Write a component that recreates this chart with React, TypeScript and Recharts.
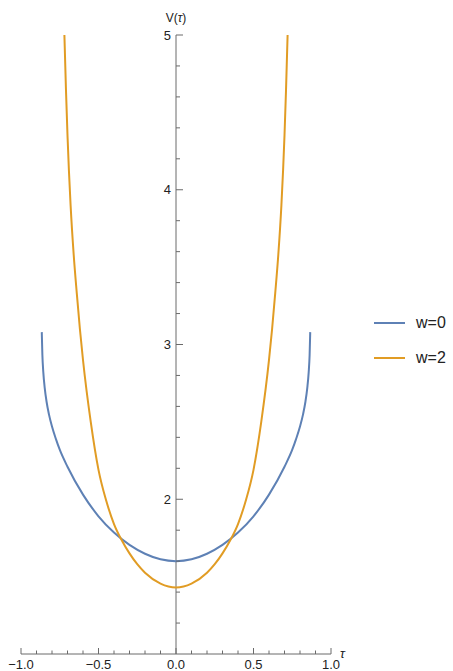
import React from 'react'
import { LineChart, Line, XAxis, YAxis, ReferenceLine, Legend } from 'recharts'

// V(tau)
const TAU_W0 = [-0.866, -0.862, -0.856, -0.847, -0.835, -0.82, -0.8, -0.775, -0.75, -0.7, -0.6, -0.5, -0.4, -0.3, -0.2, -0.1, 0, 0.1, 0.2, 0.3, 0.4, 0.5, 0.6, 0.7, 0.75, 0.775, 0.8, 0.82, 0.835, 0.847, 0.856, 0.862, 0.866]
const V_W0 = [3.08, 2.93, 2.82, 2.72, 2.63, 2.55, 2.47, 2.39, 2.32, 2.21, 2.03, 1.89, 1.785, 1.705, 1.648, 1.612, 1.6, 1.612, 1.648, 1.705, 1.785, 1.89, 2.03, 2.21, 2.32, 2.39, 2.47, 2.55, 2.63, 2.72, 2.82, 2.93, 3.08]

const TAU_W2 = [-0.72, -0.71, -0.7, -0.68, -0.66, -0.64, -0.62, -0.6, -0.55, -0.5, -0.45, -0.4, -0.35, -0.3, -0.25, -0.2, -0.1, 0, 0.1, 0.2, 0.25, 0.3, 0.35, 0.4, 0.45, 0.5, 0.55, 0.6, 0.62, 0.64, 0.66, 0.68, 0.7, 0.71, 0.72]
const V_W2 = [5.0, 4.65, 4.35, 3.9, 3.58, 3.33, 3.1, 2.9, 2.5, 2.19, 1.99, 1.84, 1.735, 1.65, 1.58, 1.525, 1.455, 1.43, 1.455, 1.525, 1.58, 1.65, 1.735, 1.84, 1.99, 2.19, 2.5, 2.9, 3.1, 3.33, 3.58, 3.9, 4.35, 4.65, 5.0]

const SERIES = ['w=0', 'w=2']
const COLORS = ['#5e81b5', '#e19c24']

const X_TICKS = [-1, -0.9, -0.8, -0.7, -0.6, -0.5, -0.4, -0.3, -0.2, -0.1, 0, 0.1, 0.2, 0.3, 0.4, 0.5, 0.6, 0.7, 0.8, 0.9, 1]
const X_LABELS = { '-1': '\u22121.0', '-0.5': '\u22120.5', '0': '0.0', '0.5': '0.5', '1': '1.0' }
const Y_TICKS = [1.2, 1.4, 1.6, 1.8, 2, 2.2, 2.4, 2.6, 2.8, 3, 3.2, 3.4, 3.6, 3.8, 4, 4.2, 4.4, 4.6, 4.8, 5]
const Y_LABELS = { '2': '2', '3': '3', '4': '4', '5': '5' }

const W = 453
const H = 671
const M = { top: 35, right: 122, bottom: 0, left: 20 }
const X0 = 176 // pixel of tau = 0 (plot spans 21..331)
const AXIS = '#6a6a6a'
const FONT = '"Liberation Sans", Arial, sans-serif'

const w0 = TAU_W0.map((t, i) => ({ t, v: V_W0[i] }))
const w2 = TAU_W2.map((t, i) => ({ t, v: V_W2[i] }))

function XTick({ x, y, payload }) {
  const lab = X_LABELS[String(payload.value)]
  return (
    <g>
      <line x1={x} x2={x} y1={y} y2={y - (lab ? 6 : 3.5)} stroke={AXIS} />
      {lab && <text x={x} y={y + 14.5} textAnchor="middle" fontSize={13} fill="#222" fontFamily={FONT}>{lab}</text>}
    </g>
  )
}

function YTick({ y, payload }) {
  const lab = Y_LABELS[String(payload.value)]
  return (
    <g>
      <line x1={X0} x2={X0 + (lab ? 7 : 4)} y1={y} y2={y} stroke={AXIS} />
      {lab && <text x={X0 - 5} y={y + 4.5} textAnchor="end" fontSize={13} fill="#222" fontFamily={FONT}>{lab}</text>}
    </g>
  )
}

function LegendBox() {
  return (
    <div style={{ fontFamily: FONT, fontSize: 16, color: '#222' }}>
      {SERIES.map((s, i) => (
        <div key={s} style={{ display: 'flex', alignItems: 'center', height: 35 }}>
          <svg width={31} height={4} style={{ marginRight: 11 }}>
            <line x1={0} x2={31} y1={2} y2={2} stroke={COLORS[i]} strokeWidth={2} />
          </svg>
          <span>{s}</span>
        </div>
      ))}
    </div>
  )
}

export default function App() {
  return (
    <div style={{ position: 'absolute', left: 0, top: 0, width: W, height: H, background: '#fff' }}>
      <LineChart width={W} height={H} margin={M}>
        <XAxis dataKey="t" type="number" domain={[-1, 1]} ticks={X_TICKS} interval={0} height={17}
          stroke={AXIS} tickSize={0} tickMargin={0} tick={<XTick />} allowDataOverflow
          label={{ content: () => <text x={340} y={658} fontSize={13} fontStyle="italic" fill="#222" fontFamily={FONT}>τ</text> }} />
        <YAxis type="number" domain={[1, 5]} ticks={Y_TICKS} interval={0} width={1} axisLine={false}
          tickLine={false} tick={<YTick />} allowDataOverflow
          label={{ content: () => <text x={X0} y={22} textAnchor="middle" fontSize={12} fill="#222" fontFamily={FONT}>V(<tspan fontStyle="italic">τ</tspan>)</text> }} />
        <ReferenceLine x={0} stroke={AXIS} />
        <Line data={w0} dataKey="v" name={SERIES[0]} type="monotoneX" stroke={COLORS[0]} strokeWidth={2} dot={false} isAnimationActive={false} />
        <Line data={w2} dataKey="v" name={SERIES[1]} type="monotoneX" stroke={COLORS[1]} strokeWidth={2} dot={false} isAnimationActive={false} />
        <Legend layout="vertical" align="center" verticalAlign="middle" content={<LegendBox />}
          wrapperStyle={{ left: 374, top: 305, width: 80, height: 70 }} />
      </LineChart>
    </div>
  )
}
